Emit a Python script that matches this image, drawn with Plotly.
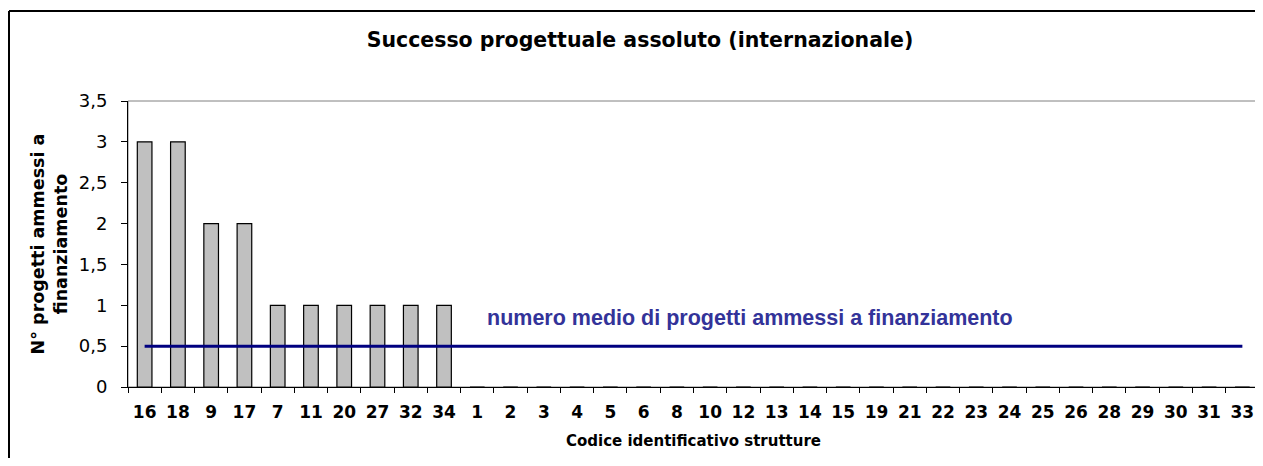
import plotly.graph_objects as go

categories = ["16", "18", "9", "17", "7", "11", "20", "27", "32", "34", "1", "2", "3", "4", "5",
              "6", "8", "10", "12", "13", "14", "15", "19", "21", "22", "23", "24", "25", "26",
              "28", "29", "30", "31", "33"]
values = [3, 3, 2, 2, 1, 1, 1, 1, 1, 1, 0, 0, 0, 0, 0, 0, 0, 0, 0, 0, 0, 0, 0, 0, 0, 0, 0, 0, 0,
          0, 0, 0, 0, 0]
mean_value = [0.5] * len(categories)
y_ticks = [0, 0.5, 1, 1.5, 2, 2.5, 3, 3.5]
y_tick_text = ["0", "0,5", "1", "1,5", "2", "2,5", "3", "3,5"]

# page body has an 8px margin: work in figure coordinates = page - 8
OFF = 8
W, H = 1255, 450
L, R = 128 - OFF, W - (1259 - OFF)
T, B = round(100.7 - OFF), H - round(387.3 - OFF)
pw = W - L - R
ph = H - T - B

def px_x(p):
    return (p - OFF - L) / pw

def px_y(p):
    return (H - B - (p - OFF)) / ph

fig = go.Figure()
fig.add_trace(go.Bar(
    x=categories, y=values,
    marker=dict(color="#C0C0C0", line=dict(color="black", width=1.2)),
    hoverinfo="x+y",
))
fig.add_trace(go.Scatter(
    x=categories, y=mean_value, mode="lines",
    line=dict(color="#000080", width=3),
))

fig.add_annotation(
    x=px_x(485), y=0.84, xref="paper", yref="y",
    text="numero medio di progetti ammessi a finanziamento",
    showarrow=False, xanchor="left", yanchor="middle",
    font=dict(family="Liberation Sans", size=21.5, color="#333399", weight="bold"),
)

# outer chart border (left and top edges visible in the crop)
fig.add_shape(type="line", xref="paper", yref="paper",
              x0=px_x(9), x1=px_x(9), y0=px_y(470), y1=px_y(11),
              line=dict(color="black", width=2), layer="below")
fig.add_shape(type="line", xref="paper", yref="paper",
              x0=px_x(9), x1=px_x(1275), y0=px_y(11), y1=px_y(11),
              line=dict(color="black", width=2), layer="below")
# plot area border (top/right gray)
fig.add_shape(type="rect", xref="paper", yref="paper",
              x0=0, x1=1, y0=0, y1=1,
              line=dict(color="#808080", width=1), layer="below")

fig.update_layout(
    width=W, height=H,
    margin=dict(l=L, r=R, t=T, b=B),
    paper_bgcolor="white", plot_bgcolor="white",
    showlegend=False,
    bargap=0.56,
    title=dict(
        text="<b>Successo progettuale assoluto (internazionale)</b>",
        x=px_x(640), xref="paper", y=1 - (40 - OFF) / H, yanchor="middle", xanchor="center",
        font=dict(family="DejaVu Sans", size=20.5, color="black"),
    ),
    font=dict(family="DejaVu Sans", color="black"),
)
fig.update_xaxes(
    type="category", categoryorder="array", categoryarray=categories,
    showline=True, linecolor="black", linewidth=1,
    ticks="outside", ticklen=5, tickcolor="black", tickson="boundaries",
    ticklabelstandoff=10,
    showgrid=False, zeroline=False,
    tickfont=dict(family="DejaVu Sans", size=17, weight="bold"),
    title=dict(text="<b>Codice identificativo strutture</b>",
               font=dict(family="DejaVu Sans", size=15), standoff=14),
)
fig.update_yaxes(
    range=[0, 3.5], tickvals=y_ticks, ticktext=y_tick_text,
    showline=True, linecolor="black", linewidth=1,
    ticks="outside", ticklen=6, tickcolor="black",
    ticklabelstandoff=10,
    showgrid=False, zeroline=False,
    tickfont=dict(family="DejaVu Sans", size=18),
    title=dict(text="<b>N° progetti ammessi a<br>finanziamento</b>",
               font=dict(family="DejaVu Sans", size=17.5), standoff=6),
)

fig.write_html("out.html")
